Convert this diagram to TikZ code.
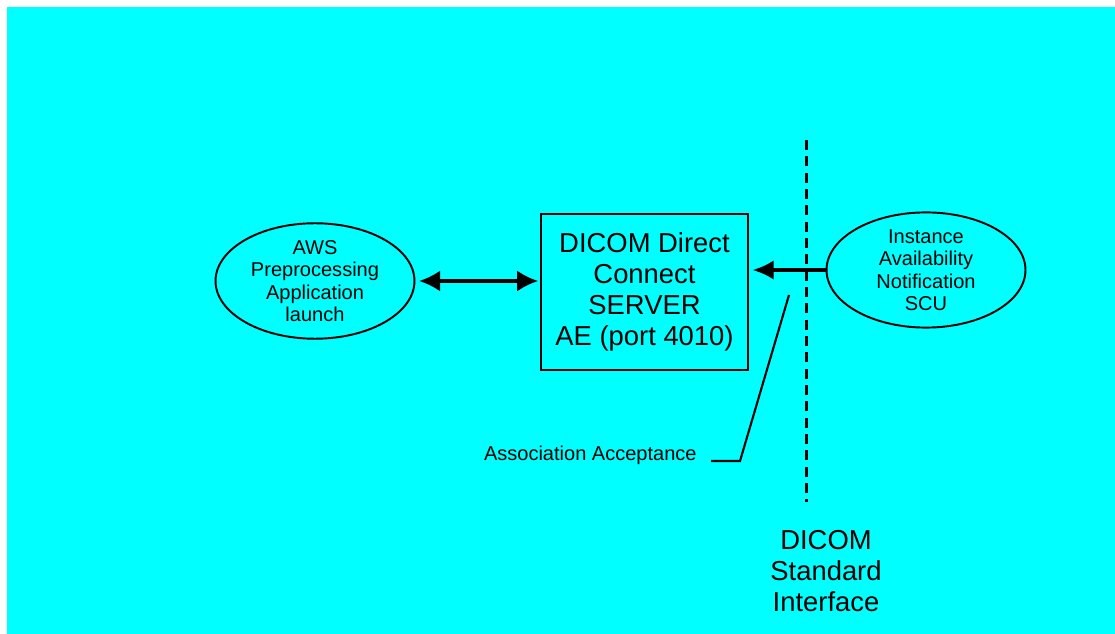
\documentclass[tikz,border=0pt]{standalone}
\usepackage{fontspec}
\setmainfont{Liberation Sans}
\usetikzlibrary{arrows.meta,shapes.geometric,positioning}
\definecolor{bgcyan}{RGB}{0,255,255}

\begin{document}
\begin{tikzpicture}[
            x = 0.02cm, y = -0.02cm, % pixel grid
            bigtext/.style = {font=\fontsize{15.6}{17.6}\selectfont, align=center},
            smalltext/.style = {font=\fontsize{11.4}{12.8}\selectfont, align=center},
            app/.style = {ellipse, draw, line width=1.1pt, inner sep=0pt,
                          minimum width=3.98cm, minimum height=1.92cm, smalltext},
            server/.style = {rectangle, draw, line width=1.1pt, inner sep=0pt,
                          minimum width=4.14cm, minimum height=3.12cm, bigtext},
            link/.style = {line width=2pt},
            twoway/.style = {link, {Latex[length=12pt,width=12pt]}-{Latex[length=12pt,width=12pt]}},
            oneway/.style = {link, -{Latex[length=12pt,width=11pt]}}
        ]

	% background
	\fill[white] (0,0) rectangle (1115,634);
	\fill[bgcyan] (7,7) rectangle (1115,634);

	\node[app] (aws) at (315,281) {AWS\\Preprocessing\\Application\\launch};
	\node[server] (dcs) at (644.5,292) {DICOM Direct\\Connect\\SERVER\\AE (port 4010)};
	\node[app] (ian) at (926,270) {Instance\\Availability\\Notification\\SCU};

	\coordinate (top) at (806,140);
	\coordinate (bottom) at (806,502);
	\node[bigtext] (std) at (826,571) {DICOM\\Standard\\Interface};

	\coordinate (c1) at (789,295);
	\coordinate (c2) at (740,461);
	\coordinate (c3) at (711,461);
	\node[smalltext, anchor=east, inner sep=0pt] (assoc) at (697,455) {Association Acceptance};

	\draw[twoway, shorten <=2pt, shorten >=1pt] (aws.east) -- (aws.east -| dcs.west);
	\draw[oneway, shorten >=2pt] (ian.west) -- (ian.west -| dcs.east);
	\draw[line width=1.7pt, dash pattern=on 5.7pt off 3.6pt] (top) -- (bottom);
	\draw[line width=1.2pt] (c1) -- (c2) -- (c3);
\end{tikzpicture}
\end{document}
